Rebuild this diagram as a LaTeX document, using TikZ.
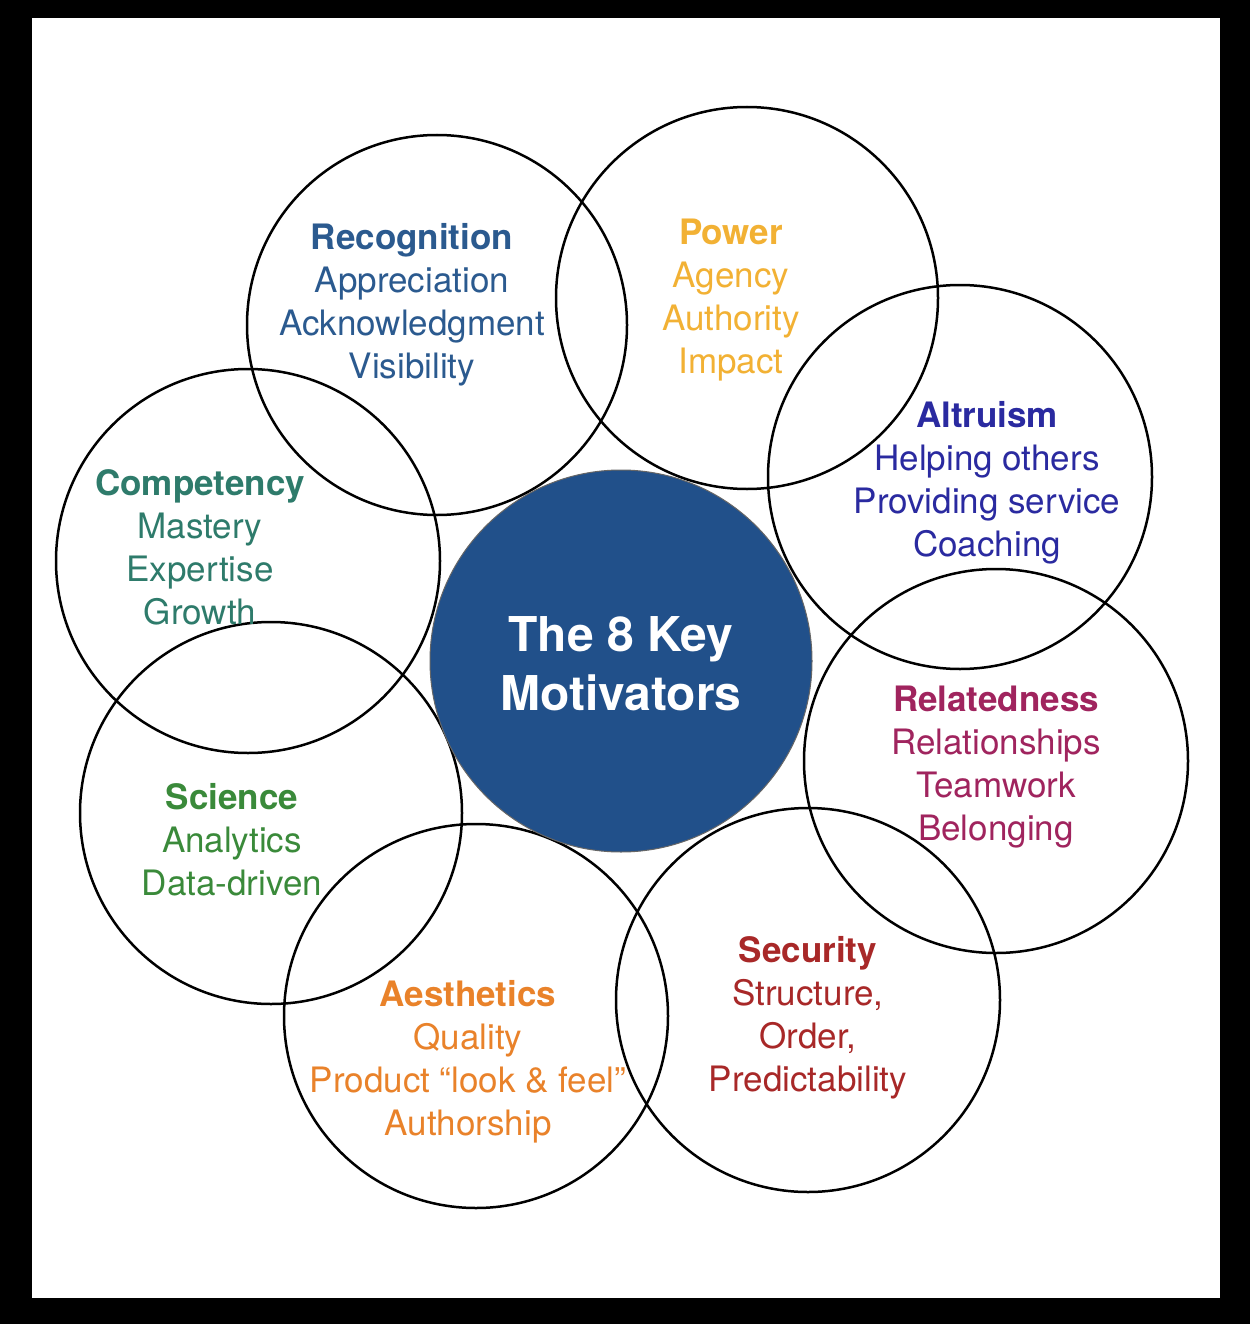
\documentclass[tikz,border=0pt]{standalone}
\usepackage{fontspec}
\setmainfont{TeX Gyre Heros}
\definecolor{cRec}{HTML}{2B5A8F}
\definecolor{cPow}{HTML}{F2B134}
\definecolor{cAlt}{HTML}{2A2AA0}
\definecolor{cRel}{HTML}{A0245E}
\definecolor{cSec}{HTML}{A82828}
\definecolor{cAes}{HTML}{E9822A}
\definecolor{cSci}{HTML}{3A8A3A}
\definecolor{cCom}{HTML}{2E7B6B}
\definecolor{cMid}{HTML}{21508A}
\begin{document}
\begin{tikzpicture}[x=1pt,y=-1pt,
  ring/.style={draw=black,line width=2.5pt},
  label/.style={align=center,font=\fontsize{35}{43}\selectfont,inner sep=0pt},
  title/.style={align=center,text=white,font=\fontsize{48}{59}\selectfont\bfseries,inner sep=0pt}]
\useasboundingbox (0,0) rectangle (1250,1324);
\fill[black] (0,0) rectangle (1250,1324);
\fill[white] (32,18) rectangle (1220,1298);
% rings
\draw[ring] (437,325) circle (190);
\draw[ring] (747,298) circle (191);
\draw[ring] (960,477) circle (192);
\draw[ring] (996,761) circle (192);
\draw[ring] (808,1000) circle (192);
\draw[ring] (476,1016) circle (192);
\draw[ring] (271,813) circle (191);
\draw[ring] (248,561) circle (192);
% centre
\node[circle,minimum size=382pt,fill=cMid,draw=black!60,line width=1pt,inner sep=0pt] (mid) at (621,661) {};
\node[title] (ttl) at (621,664) {The 8 Key\\Motivators};
% labels
\node[label,text=cRec] (rec) at (412,305) {\textbf{Recognition}\\Appreciation\\Acknowledgment\\Visibility};
\node[label,text=cPow] (pow) at (731,300) {\textbf{Power}\\Agency\\Authority\\Impact};
\node[label,text=cAlt] (alt) at (987,483) {\textbf{Altruism}\\Helping others\\Providing service\\Coaching};
\node[label,text=cRel] (rel) at (996,767) {\textbf{Relatedness}\\Relationships\\Teamwork\\Belonging};
\node[label,text=cSec] (sec) at (808,1018) {\textbf{Security}\\Structure,\\Order,\\Predictability};
\node[label,text=cAes] (aes) at (468,1062) {\textbf{Aesthetics}\\Quality\\Product “look \& feel”\\Authorship};
\node[label,text=cSci] (sci) at (232,840) {\textbf{Science}\\Analytics\\Data-driven};
\node[label,text=cCom] (com) at (200,547) {\textbf{Competency}\\Mastery\\Expertise\\Growth};
\end{tikzpicture}
\end{document}
